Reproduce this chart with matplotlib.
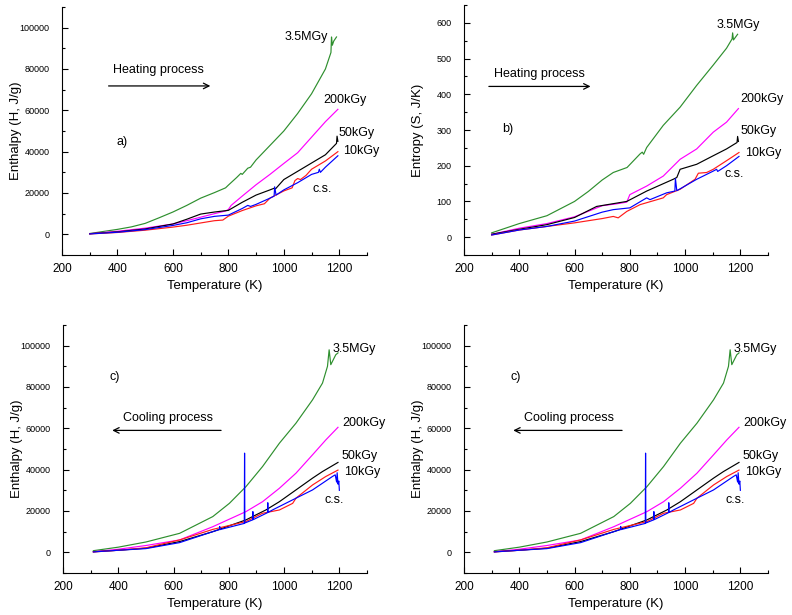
import matplotlib
matplotlib.use('Agg')
import matplotlib.pyplot as plt
from matplotlib.ticker import MultipleLocator

plt.rcParams['font.family'] = ['Liberation Sans', 'DejaVu Sans']

# ---- a) enthalpy, heating ----
a_green_T = [300, 350, 400, 450, 500, 550, 600, 650, 700, 750, 790, 800, 830, 845, 850, 870, 880, 900, 950, 1000, 1050, 1100, 1150, 1170, 1172, 1175, 1180, 1190]
a_green_H = [400, 1400, 2400, 3600, 5300, 8000, 10800, 14000, 17500, 20200, 22500, 23800, 27500, 29500, 29000, 32000, 32500, 36000, 43000, 50000, 58500, 68000, 80000, 88000, 95500, 91500, 93500, 95500]
a_mag_T = [300, 400, 500, 600, 650, 700, 750, 790, 800, 810, 850, 900, 950, 1000, 1050, 1100, 1150, 1195]
a_mag_H = [300, 1500, 3000, 5000, 6600, 8300, 10000, 11300, 12000, 14000, 18500, 24000, 29000, 34300, 39500, 47000, 54500, 60500]
a_blk_T = [300, 400, 500, 600, 650, 700, 750, 800, 850, 900, 950, 965, 970, 1000, 1050, 1100, 1150, 1190, 1192, 1195]
a_blk_H = [300, 1200, 2600, 5000, 7300, 9800, 10800, 11600, 15500, 19000, 21500, 22300, 22000, 26500, 30500, 34500, 38500, 44000, 47500, 45000]
a_red_T = [300, 400, 500, 600, 650, 700, 750, 780, 800, 850, 900, 930, 950, 1000, 1030, 1040, 1050, 1060, 1080, 1100, 1150, 1195]
a_red_H = [200, 900, 2000, 3500, 4400, 5500, 6600, 6900, 8800, 11500, 13800, 14800, 17500, 21000, 22500, 26000, 27000, 26500, 28500, 31500, 35500, 40000]
a_blu_T = [300, 400, 500, 600, 650, 700, 750, 800, 850, 870, 880, 900, 950, 965, 967, 972, 1000, 1050, 1100, 1125, 1128, 1132, 1150, 1195]
a_blu_H = [200, 1000, 2300, 4300, 5600, 7500, 8700, 9300, 12500, 14000, 13500, 14500, 17500, 18500, 23000, 19000, 21500, 25000, 29000, 30000, 31500, 30000, 32500, 38000]

# ---- b) entropy, heating ----
b_green_T = [300, 400, 500, 600, 650, 700, 740, 790, 837, 845, 850, 861, 921, 982, 1042, 1102, 1150, 1170, 1172, 1175, 1190]
b_green_S = [12, 38, 60, 100, 128, 160, 181, 195, 233, 238, 232, 251, 313, 364, 425, 482, 529, 555, 572, 552, 568]
b_mag_T = [300, 400, 500, 600, 700, 750, 789, 800, 861, 921, 982, 1042, 1102, 1150, 1193]
b_mag_S = [8, 25, 38, 57, 88, 93, 98, 119, 143, 171, 218, 247, 294, 322, 360]
b_blk_T = [300, 400, 500, 600, 680, 750, 789, 861, 957, 970, 982, 1042, 1102, 1150, 1188, 1190, 1193]
b_blk_S = [8, 22, 35, 55, 86, 95, 100, 129, 162, 167, 190, 204, 228, 247, 265, 282, 268]
b_red_T = [300, 400, 500, 600, 700, 740, 758, 789, 837, 921, 933, 982, 1036, 1048, 1078, 1102, 1150, 1195]
b_red_S = [6, 20, 30, 40, 52, 58, 54, 72, 91, 110, 119, 134, 162, 179, 181, 190, 214, 237]
b_blu_T = [300, 400, 500, 600, 700, 740, 800, 861, 873, 933, 963, 965, 970, 1042, 1102, 1114, 1118, 1150, 1195]
b_blu_S = [6, 20, 30, 45, 70, 77, 82, 110, 105, 124, 129, 164, 130, 162, 185, 190, 184, 200, 226]

# ---- c) enthalpy, cooling ----
c_green_T = [310, 400, 500, 622, 742, 802, 862, 922, 983, 1043, 1103, 1139, 1157, 1163, 1169, 1187, 1195]
c_green_H = [800, 2500, 5000, 9200, 17300, 23700, 31800, 41500, 52800, 62500, 73800, 81900, 90000, 98000, 90800, 95600, 96500]
c_mag_T = [310, 400, 500, 622, 742, 862, 922, 983, 1043, 1103, 1151, 1195]
c_mag_H = [300, 1500, 3300, 6000, 12400, 19700, 24500, 31000, 38300, 47200, 54400, 60500]
c_blk_T = [310, 400, 500, 622, 742, 862, 934, 983, 1043, 1103, 1139, 1195]
c_blk_H = [300, 1000, 2000, 5200, 10000, 15700, 20500, 24500, 30200, 35900, 39100, 43500]
c_red_T = [310, 400, 500, 622, 742, 862, 922, 983, 1031, 1043, 1103, 1151, 1195]
c_red_H = [200, 1000, 2200, 6000, 11100, 14900, 18900, 20500, 23700, 26200, 32600, 36700, 39800]
c_blu_T = [310, 400, 500, 622, 742, 766, 767, 768, 856, 857, 858, 886, 887, 888, 940, 941, 942, 958, 1043, 1103, 1175, 1185, 1190, 1192, 1195, 1198, 1200]
c_blu_H = [200, 1000, 1800, 4700, 10000, 11000, 12500, 11000, 14000, 48000, 14200, 15700, 19700, 15800, 19200, 24000, 19300, 20500, 26200, 30200, 36700, 37500, 34000, 38500, 33000, 34500, 30000]

labels_H_c = [('3.5MGy', 1174, 98500), ('200kGy', 1210, 62500), ('50kGy', 1206, 46500),
              ('10kGy', 1217, 39000), ('c.s.', 1145, 25500)]

green = '#2e8f2e'
colors = [green, '#ff00ff', 'black', '#ff1a1a', '#0000ff']


def setup(ax, ylabel, ymin, ymax, ymaj, ymin_step):
    ax.spines['top'].set_visible(False)
    ax.spines['right'].set_visible(False)
    ax.set_xlim(200, 1300)
    ax.xaxis.set_major_locator(MultipleLocator(200))
    ax.xaxis.set_minor_locator(MultipleLocator(100))
    ax.yaxis.set_major_locator(MultipleLocator(ymaj))
    ax.yaxis.set_minor_locator(MultipleLocator(ymin_step))
    ax.tick_params(which='both', direction='in', width=0.8)
    ax.tick_params(which='major', length=4)
    ax.tick_params(which='minor', length=2.5)
    ax.tick_params(axis='y', pad=9, labelsize=6.5)
    ax.tick_params(axis='x', pad=6, labelsize=8.5)
    ax.set_ylim(ymin, ymax)
    ax.set_xlabel('Temperature (K)', fontsize=9.5)
    ax.set_ylabel(ylabel, fontsize=9.5)
    ax.xaxis.set_label_coords(0.5, -0.1)
    ax.yaxis.set_label_coords(-0.13, 0.5)


def draw(ax, series):
    for (x, y), c in zip(series, colors):
        ax.plot(x, y, color=c, lw=0.85)


def add_labels(ax, labels):
    for txt, x, y in labels:
        ax.text(x, y, txt, fontsize=9, ha='left', va='center')


fig = plt.figure(figsize=(7.92, 6.15), dpi=100)

# a)
ax = fig.add_axes([62 / 792, 1 - 255 / 615, 305 / 792, 248 / 615])
draw(ax, [(a_green_T, a_green_H), (a_mag_T, a_mag_H), (a_blk_T, a_blk_H), (a_red_T, a_red_H), (a_blu_T, a_blu_H)])
setup(ax, 'Enthalpy (H, J/g)', -10000, 110000, 20000, 10000)
add_labels(ax, [('3.5MGy', 1004, 95500), ('200kGy', 1141, 65000), ('50kGy', 1199, 49000),
                ('10kGy', 1213, 40500), ('c.s.', 1105, 22000)])
ax.text(384, 79500, 'Heating process', fontsize=9, ha='left', va='center')
ax.annotate('', xy=(745, 71800), xytext=(358, 71800),
            arrowprops=dict(arrowstyle='->', lw=0.9, color='black'))
ax.text(398, 44500, 'a)', fontsize=9, ha='left', va='center')

# b)
ax = fig.add_axes([464 / 792, 1 - 255 / 615, 304 / 792, 250 / 615])
draw(ax, [(b_green_T, b_green_S), (b_mag_T, b_mag_S), (b_blk_T, b_blk_S), (b_red_T, b_red_S), (b_blu_T, b_blu_S)])
setup(ax, 'Entropy (S, J/K)', -50, 650, 100, 50)
add_labels(ax, [('3.5MGy', 1115, 594), ('200kGy', 1199, 388), ('50kGy', 1199, 297),
                ('10kGy', 1217, 235), ('c.s.', 1144, 176)])
ax.text(309, 456, 'Heating process', fontsize=9, ha='left', va='center')
ax.annotate('', xy=(668, 422), xytext=(280, 422),
            arrowprops=dict(arrowstyle='->', lw=0.9, color='black'))
ax.text(337, 303, 'b)', fontsize=9, ha='left', va='center')

# c) twice (bottom left and bottom right)
for left in (63, 464):
    ax = fig.add_axes([left / 792, 1 - 573 / 615, 304 / 792, 248 / 615])
    draw(ax, [(c_green_T, c_green_H), (c_mag_T, c_mag_H), (c_blk_T, c_blk_H), (c_red_T, c_red_H), (c_blu_T, c_blu_H)])
    setup(ax, 'Enthalpy (H, J/g)', -10000, 110000, 20000, 10000)
    add_labels(ax, labels_H_c)
    ax.text(416, 65000, 'Cooling process', fontsize=9, ha='left', va='center')
    ax.annotate('', xy=(368, 59000), xytext=(782, 59000),
                arrowprops=dict(arrowstyle='->', lw=0.9, color='black'))
    ax.text(370, 85000, 'c)', fontsize=9, ha='left', va='center')

fig.savefig('out.png', dpi=100)
